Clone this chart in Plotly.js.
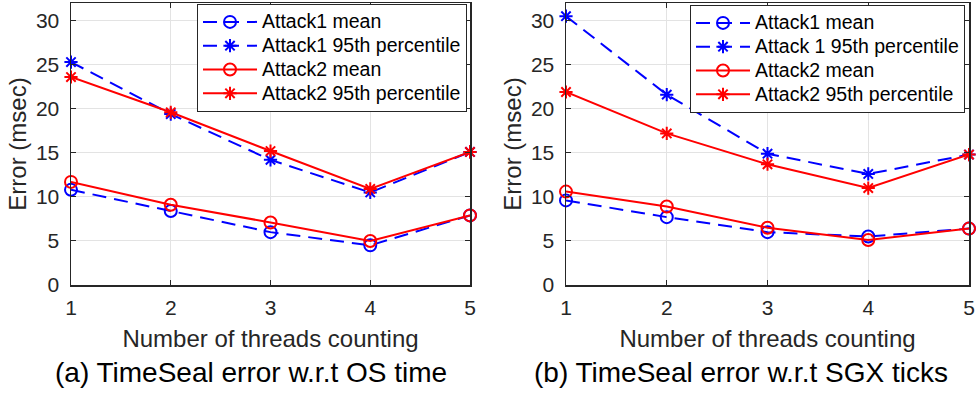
<!DOCTYPE html>
<html>
<head>
<meta charset="utf-8">
<script src="https://cdn.plot.ly/plotly-3.0.1.min.js"></script>
<style>html,body{margin:0;padding:0;background:#fff;}#chart{width:976px;height:394px;}</style>
</head>
<body>
<div id="chart"></div>
<script>
// Data
const threads = [1, 2, 3, 4, 5];
const xTickLabels = ['1', '2', '3', '4', '5'];
const yTickValues = [0, 5, 10, 15, 20, 25, 30];

// (a) TimeSeal error w.r.t OS time
const osAttack1Mean = [10.8, 8.4, 6.0, 4.5, 7.9];
const osAttack1P95  = [25.3, 19.4, 14.2, 10.5, 15.1];
const osAttack2Mean = [11.7, 9.1, 7.1, 5.0, 7.9];
const osAttack2P95  = [23.6, 19.6, 15.2, 10.9, 15.1];

// (b) TimeSeal error w.r.t SGX ticks
const sgxAttack1Mean = [9.6, 7.7, 6.0, 5.5, 6.4];
const sgxAttack1P95  = [30.5, 21.6, 14.9, 12.6, 14.8];
const sgxAttack2Mean = [10.6, 8.9, 6.5, 5.1, 6.4];
const sgxAttack2P95  = [21.9, 17.2, 13.7, 11.0, 14.8];

const namesA = ['Attack1 mean', 'Attack1 95th percentile', 'Attack2 mean', 'Attack2 95th percentile'];
const namesB = ['Attack1 mean', 'Attack 1 95th percentile', 'Attack2 mean', 'Attack2 95th percentile'];
const captions = ['(a) TimeSeal error w.r.t OS time', '(b) TimeSeal error w.r.t SGX ticks'];
const xTitle = 'Number of threads counting';
const yTitle = 'Error (msec)';

const BLUE = '#0000FF', RED = '#FF0000';
const FONT = 'Liberation Sans, Arial, Helvetica, sans-serif';

function legendLabel(s) { return '<span style="font-size:19.5px">' + s + '</span>'; }

function mk(y, name, color, dashed, symbol, xa, ya, legend) {
  return {
    x: threads, y: y, name: legendLabel(name), type: 'scatter', mode: 'lines+markers',
    xaxis: xa, yaxis: ya, legend: legend, cliponaxis: false,
    line: {color: color, width: 2, dash: dashed ? '14px,8px' : 'solid'},
    marker: {symbol: symbol, size: symbol === 'circle-open' ? 12 : 11, color: color,
             line: {color: color, width: 2}}
  };
}

const traces = [
  mk(osAttack1Mean, namesA[0], BLUE, true, 'circle-open', 'x', 'y', 'legend'),
  mk(osAttack1P95,  namesA[1], BLUE, true, 'asterisk-open', 'x', 'y', 'legend'),
  mk(osAttack2Mean, namesA[2], RED, false, 'circle-open', 'x', 'y', 'legend'),
  mk(osAttack2P95,  namesA[3], RED, false, 'asterisk-open', 'x', 'y', 'legend'),
  mk(sgxAttack1Mean, namesB[0], BLUE, true, 'circle-open', 'x2', 'y2', 'legend2'),
  mk(sgxAttack1P95,  namesB[1], BLUE, true, 'asterisk-open', 'x2', 'y2', 'legend2'),
  mk(sgxAttack2Mean, namesB[2], RED, false, 'circle-open', 'x2', 'y2', 'legend2'),
  mk(sgxAttack2P95,  namesB[3], RED, false, 'asterisk-open', 'x2', 'y2', 'legend2')
];

const W = 976, H = 394;
function xax(domain, anchor) {
  return {
    domain: domain, anchor: anchor, range: [1, 5], tickvals: threads, ticktext: xTickLabels,
    showgrid: true, gridcolor: '#E3E3E3', gridwidth: 1, zeroline: false,
    showline: true, linecolor: '#262626', linewidth: 1.5, mirror: 'ticks',
    ticks: 'inside', ticklen: 5, tickcolor: '#262626', ticklabelstandoff: 3,
    tickfont: {family: FONT, size: 21, color: '#262626'},
    title: {text: xTitle, standoff: 12, font: {family: FONT, size: 24, color: '#262626'}},
    automargin: false, fixedrange: true
  };
}
function yax(anchor) {
  return {
    domain: [(H - 285) / H, (H - 3) / H], anchor: anchor, range: [0, 32], tickvals: yTickValues,
    showgrid: true, gridcolor: '#E3E3E3', gridwidth: 1, zeroline: false,
    showline: true, linecolor: '#262626', linewidth: 1.5, mirror: 'ticks',
    ticks: 'inside', ticklen: 5, tickcolor: '#262626', ticklabelstandoff: 6,
    tickfont: {family: FONT, size: 21, color: '#262626'},
    title: {text: yTitle, standoff: 2, font: {family: FONT, size: 24, color: '#262626'}},
    automargin: false, fixedrange: true
  };
}
const legendStyle = {
  bgcolor: '#FFFFFF', bordercolor: '#262626', borderwidth: 1,
  font: {family: FONT, size: 16, color: '#000000'},
  xanchor: 'left', yanchor: 'top', itemwidth: 54, tracegroupgap: 0, traceorder: 'normal'
};

const layout = {
  width: W, height: H,
  margin: {l: 0, r: 0, t: 0, b: 0},
  paper_bgcolor: '#FFFFFF', plot_bgcolor: '#FFFFFF',
  showlegend: true,
  xaxis: xax([71 / W, 470 / W], 'y'),
  yaxis: yax('x'),
  xaxis2: xax([566 / W, 969 / W], 'y2'),
  yaxis2: yax('x2'),
  legend: Object.assign({x: 197 / W, y: 1 - 4 / H}, legendStyle),
  legend2: Object.assign({x: 690 / W, y: 1 - 5 / H}, legendStyle),
  annotations: [
    {text: captions[0], xref: 'paper', yref: 'paper', x: 251 / W, y: 1 - 372 / H,
     xanchor: 'center', yanchor: 'middle', showarrow: false,
     font: {family: FONT, size: 28, color: '#000000'}},
    {text: captions[1], xref: 'paper', yref: 'paper', x: 741 / W, y: 1 - 372 / H,
     xanchor: 'center', yanchor: 'middle', showarrow: false,
     font: {family: FONT, size: 28, color: '#000000'}}
  ]
};

Plotly.newPlot('chart', traces, layout, {staticPlot: true, displayModeBar: false});
</script>
</body>
</html>
